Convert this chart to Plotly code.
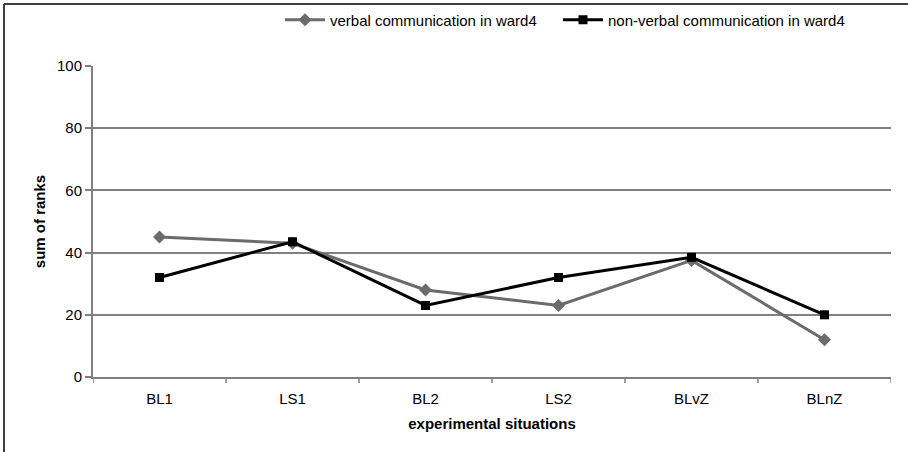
import plotly.graph_objects as go

categories = ["BL1", "LS1", "BL2", "LS2", "BLvZ", "BLnZ"]
verbal = [45, 43, 28, 23, 37.5, 12]
nonverbal = [32, 43.5, 23, 32, 38.5, 20]
y_ticks = [0, 20, 40, 60, 80, 100]

FONT = "Liberation Sans, Arial, sans-serif"
W, H = 908, 452
L, R, T, B = 93, 17, 66, 75
pw, ph = W - L - R, H - T - B

fig = go.Figure()
fig.add_trace(go.Scatter(
    x=list(range(len(categories))), y=verbal, mode="lines+markers",
    name="verbal communication in ward4",
    line=dict(color="#6b6b6b", width=3),
    marker=dict(symbol="diamond", size=10, color="#6b6b6b"),
    legend="legend",
))
fig.add_trace(go.Scatter(
    x=list(range(len(categories))), y=nonverbal, mode="lines+markers",
    name="non-verbal communication in ward4",
    line=dict(color="#000000", width=3),
    marker=dict(symbol="square", size=9, color="#000000"),
    legend="legend2",
))

def px_x(p):
    return (p - L) / pw

def px_y(p):
    return (H - B - p) / ph

shapes = [
    dict(type="line", xref="paper", yref="paper", x0=px_x(4), x1=px_x(W + 5), y0=px_y(4), y1=px_y(4),
         line=dict(color="#404040", width=2)),
    dict(type="line", xref="paper", yref="paper", x0=px_x(4), x1=px_x(4), y0=px_y(4), y1=px_y(H + 5),
         line=dict(color="#404040", width=2)),
]
for i in range(len(categories) + 1):
    shapes.append(dict(type="line", xref="x", yref="paper", x0=i - 0.5, x1=i - 0.5, y0=0, y1=-6 / ph,
                       line=dict(color="#808080", width=1.5)))

legend_common = dict(orientation="h", yanchor="middle", xanchor="left",
                     font=dict(family=FONT, size=15), itemwidth=40, bgcolor="rgba(0,0,0,0)")

fig.update_layout(
    width=W, height=H,
    margin=dict(l=L, r=R, t=T, b=B, autoexpand=False),
    paper_bgcolor="white", plot_bgcolor="white",
    font=dict(family=FONT, size=15, color="#000000"),
    showlegend=True,
    legend=dict(x=px_x(280), y=px_y(20), **legend_common),
    legend2=dict(x=px_x(558), y=px_y(20), **legend_common),
    xaxis=dict(
        range=[-0.5, len(categories) - 0.5],
        tickmode="array", tickvals=list(range(len(categories))), ticktext=categories,
        showgrid=False, zeroline=False, showline=True, linecolor="#808080", linewidth=2,
        ticks="outside", ticklen=7, tickcolor="rgba(0,0,0,0)", tickfont=dict(family=FONT, size=15),
        title=dict(text="<b>experimental situations</b>", font=dict(family=FONT, size=15), standoff=12),
        automargin=False,
    ),
    yaxis=dict(
        range=[0, 100], tickmode="array", tickvals=y_ticks,
        showgrid=True, gridcolor="#808080", gridwidth=1.5,
        zeroline=False, showline=True, linecolor="#808080", linewidth=2,
        ticks="outside", ticklen=6, tickcolor="#808080", tickwidth=1.5,
        tickfont=dict(family=FONT, size=15),
        title=dict(text="<b>sum of ranks</b>", font=dict(family=FONT, size=15), standoff=8),
        automargin=False,
    ),
    shapes=shapes,
)

fig.write_html("out.html", config={"displayModeBar": False},
               post_script="document.body.style.margin='0';document.body.style.overflow='hidden';")
